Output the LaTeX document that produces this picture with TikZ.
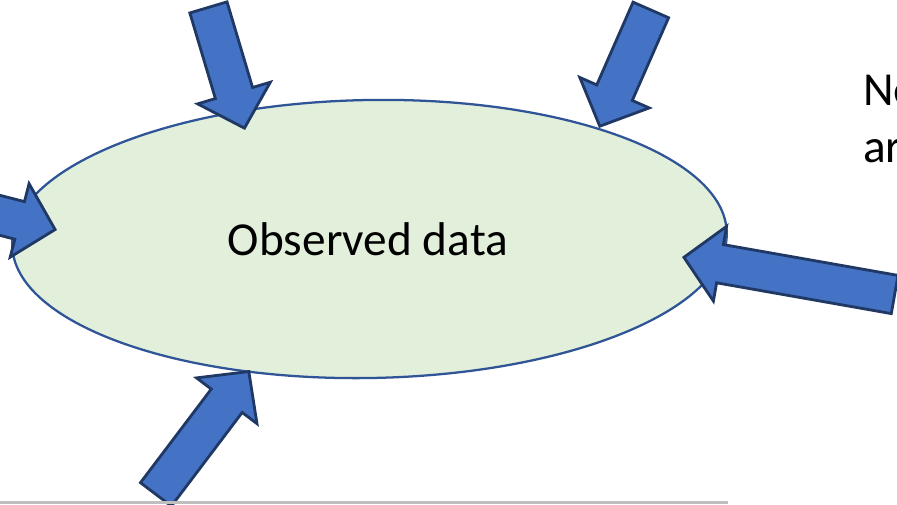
\documentclass[tikz,border=0pt]{standalone}
\usepackage{fontspec}
\setmainfont{Carlito}
\usetikzlibrary{shapes.geometric,shapes.arrows}
\definecolor{datafill}{HTML}{E2EFDA}
\definecolor{dataline}{HTML}{2F5597}
\definecolor{arrowfill}{HTML}{4472C4}
\definecolor{arrowline}{HTML}{1F3864}
\definecolor{rulegray}{HTML}{BFBFBF}
\tikzset{
datacloud/.style={
  ellipse,
  draw=dataline,
  fill=datafill,
  line width=1.7pt,
  inner sep=0pt,
  minimum width=536pt,
  minimum height=208.5pt
  },
inarrow/.style={
  single arrow,
  draw=arrowline,
  fill=arrowfill,
  line width=2.1pt,
  inner sep=13.5pt,
  minimum width=0pt,
  single arrow head extend=13.9pt,
  single arrow tip angle=92,
  single arrow head indent=0pt,
  anchor=tip
  },
bigtext/.style={
  font=\fontsize{35.5}{42}\selectfont,
  inner sep=0pt
  }
}

\begin{document}
\begin{tikzpicture}[x=0.75pt, y=-0.75pt]
\clip (0,0) rectangle (897,504);

\node[datacloud, rotate=1] at (369.5,239) (obs) {};
\node[bigtext, anchor=base] at (368,255) (obslabel) {Observed data};

\node[inarrow, minimum height=94.5pt, rotate=-73.4]
  at (245,130) (arrN) {};
\node[inarrow, minimum height=95.25pt, rotate=-113.7]
  at (599,128) (arrNE) {};
\node[inarrow, minimum height=95.25pt, rotate=-14.4]
  at (57,230) (arrW) {};
\node[inarrow, minimum height=160.5pt, rotate=170]
  at (682,257) (arrE) {};
\node[inarrow, minimum height=115.5pt, rotate=52.9]
  at (250,370) (arrS) {};

\node[bigtext, anchor=base west] at (863,105) (side1) {Ne};
\node[bigtext, anchor=base west] at (863,162) (side2) {ar};

\fill[rulegray] (0,501) rectangle (728,504);
\end{tikzpicture}
\end{document}
